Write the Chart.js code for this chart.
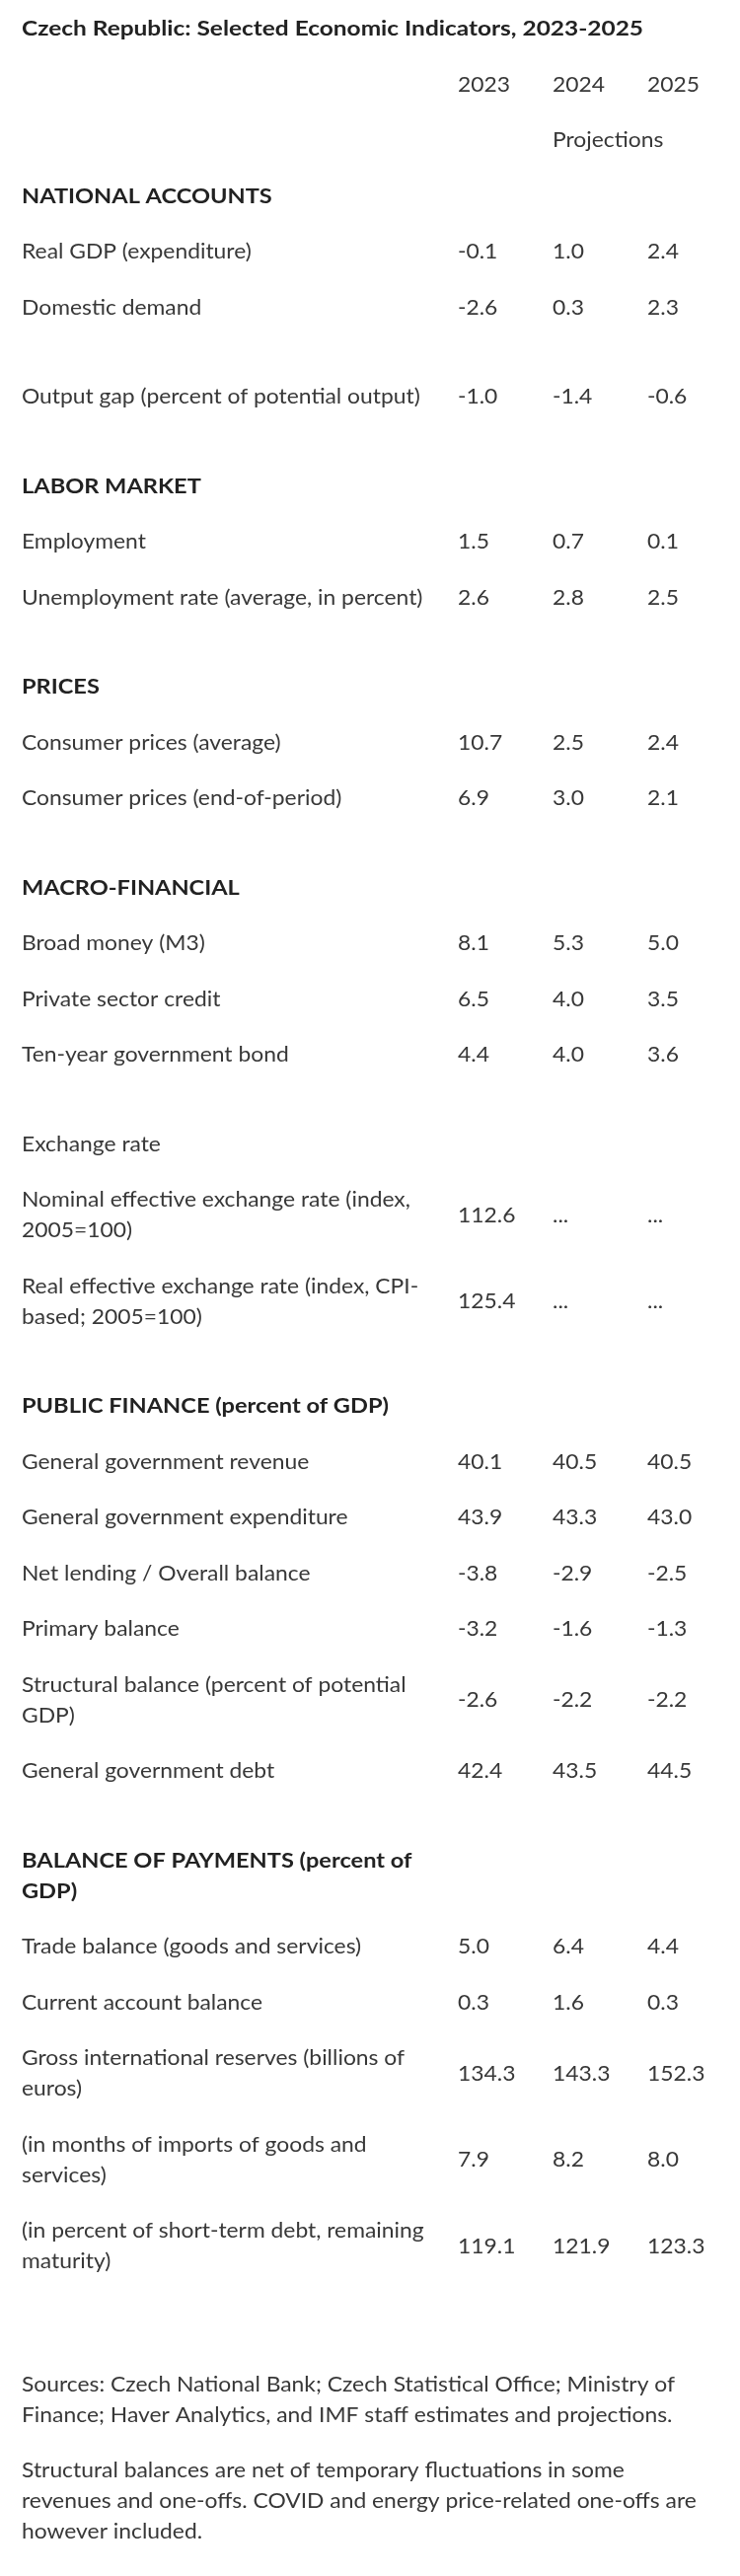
<!DOCTYPE html>
<html>
<head>
<meta charset="utf-8">
<script src="https://cdn.jsdelivr.net/npm/chart.js@4.4.1/dist/chart.umd.min.js"></script>
<style>
  html, body { margin: 0; padding: 0; background: #ffffff; }
  #wrap { width: 750px; height: 2611px; position: relative; }
</style>
</head>
<body>
<div id="wrap"><canvas id="c"></canvas></div>
<script>
// ---------------- DATA ----------------
const chartTitle = 'Czech Republic: Selected Economic Indicators, 2023-2025';
const years = ['2023', '2024', '2025'];
const projectionNote = 'Projections';

// row kinds: S = section header, I = item, G = blank gap
const rowKinds = [
  'S','I','I','G','I','G',
  'S','I','I','G',
  'S','I','I','G',
  'S','I','I','I','G','I','I','I','G',
  'S','I','I','I','I','I','I','G',
  'S','I','I','I','I','I'
];
const rowLabels = [
  'NATIONAL ACCOUNTS', 'Real GDP (expenditure)', 'Domestic demand', '', 'Output gap (percent of potential output)', '',
  'LABOR MARKET', 'Employment', 'Unemployment rate (average, in percent)', '',
  'PRICES', 'Consumer prices (average)', 'Consumer prices (end-of-period)', '',
  'MACRO-FINANCIAL', 'Broad money (M3)', 'Private sector credit', 'Ten-year government bond', '',
  'Exchange rate', 'Nominal effective exchange rate (index,\n2005=100)', 'Real effective exchange rate (index, CPI-\nbased; 2005=100)', '',
  'PUBLIC FINANCE (percent of GDP)', 'General government revenue', 'General government expenditure',
  'Net lending / Overall balance', 'Primary balance', 'Structural balance (percent of potential\nGDP)', 'General government debt', '',
  'BALANCE OF PAYMENTS (percent of\nGDP)', 'Trade balance (goods and services)', 'Current account balance',
  'Gross international reserves (billions of\neuros)', '(in months of imports of goods and\nservices)',
  '(in percent of short-term debt, remaining\nmaturity)'
];
const values2023 = [
  '', '-0.1', '-2.6', '', '-1.0', '',
  '', '1.5', '2.6', '',
  '', '10.7', '6.9', '',
  '', '8.1', '6.5', '4.4', '',
  '', '112.6', '125.4', '',
  '', '40.1', '43.9', '-3.8', '-3.2', '-2.6', '42.4', '',
  '', '5.0', '0.3', '134.3', '7.9', '119.1'
];
const values2024 = [
  '', '1.0', '0.3', '', '-1.4', '',
  '', '0.7', '2.8', '',
  '', '2.5', '3.0', '',
  '', '5.3', '4.0', '4.0', '',
  '', '...', '...', '',
  '', '40.5', '43.3', '-2.9', '-1.6', '-2.2', '43.5', '',
  '', '6.4', '1.6', '143.3', '8.2', '121.9'
];
const values2025 = [
  '', '2.4', '2.3', '', '-0.6', '',
  '', '0.1', '2.5', '',
  '', '2.4', '2.1', '',
  '', '5.0', '3.5', '3.6', '',
  '', '...', '...', '',
  '', '40.5', '43.0', '-2.5', '-1.3', '-2.2', '44.5', '',
  '', '4.4', '0.3', '152.3', '8.0', '123.3'
];
const footnotes = [
  ['Sources: Czech National Bank; Czech Statistical Office; Ministry of',
   'Finance; Haver Analytics, and IMF staff estimates and projections.'],
  ['Structural balances are net of temporary fluctuations in some',
   'revenues and one-offs. COVID and energy price-related one-offs are',
   'however included.']
];

// ---------------- LAYOUT (styles / geometry) ----------------
const PAGE_W = 750, PAGE_H = 2611;
const LAYOUT = {
  titleY: 29,
  tableTop: 57.75,
  rowH: 56.5,
  extraLineH: 31,
  gapH: 34,
  lineH: 31,
  footGap: 96,
  paraGap: 25,
  labelX: 22,
  colX: [464, 560, 656]
};
const FONT_FAMILY = 'Lato, "Open Sans", "Noto Sans", sans-serif';
const BODY_FONT = '400 21px ' + FONT_FAMILY;
const BOLD_FONT = '700 21px ' + FONT_FAMILY;
const BODY_COLOR = '#383838';
const BOLD_COLOR = '#222222';
const BODY_REF_WIDTH = 662;   // width of first footnote line in reference
const BOLD_REF_WIDTH = 630;   // width of title in reference
const SECTION_FACTOR = 0.965; // section headers slightly narrower than title

// compute row centres from row heights (header rows first)
function lineCount(s) { return s ? s.split('\n').length : 1; }
const headerCenters = [];
const rowCenters = [];
let cursor = LAYOUT.tableTop;
for (let k = 0; k < 2; k++) { headerCenters.push(cursor + LAYOUT.rowH / 2); cursor += LAYOUT.rowH; }
rowKinds.forEach((kind, i) => {
  const h = kind === 'G' ? LAYOUT.gapH : LAYOUT.rowH + (lineCount(rowLabels[i]) - 1) * LAYOUT.extraLineH;
  rowCenters.push(cursor + h / 2);
  cursor += h;
});
const tableBottom = cursor;

// datasets built from the arrays
const valueCols = [values2023, values2024, values2025];
const datasets = [];
datasets.push({
  label: 'labels',
  data: rowLabels.map((t, i) => ({ x: LAYOUT.labelX, y: rowCenters[i], text: t, kind: rowKinds[i] })).filter(d => d.text),
  pointRadius: 0, showLine: false
});
valueCols.forEach((col, j) => {
  datasets.push({
    label: years[j],
    data: col.map((v, i) => ({ x: LAYOUT.colX[j], y: rowCenters[i], text: v, kind: 'V' })).filter(d => d.text),
    pointRadius: 0, showLine: false
  });
});

let bodySX = 1, boldSX = 1;
function calibrate(ctx) {
  ctx.save();
  ctx.font = BODY_FONT;
  const w1 = ctx.measureText(footnotes[0][0]).width;
  ctx.font = BOLD_FONT;
  const w2 = ctx.measureText(chartTitle).width;
  ctx.restore();
  bodySX = Math.min(1.3, Math.max(0.75, BODY_REF_WIDTH / w1));
  boldSX = Math.min(1.3, Math.max(0.75, BOLD_REF_WIDTH / w2));
}
function drawText(ctx, str, x, y, bold, factor) {
  ctx.save();
  ctx.font = bold ? BOLD_FONT : BODY_FONT;
  ctx.fillStyle = bold ? BOLD_COLOR : BODY_COLOR;
  ctx.textAlign = 'left';
  ctx.textBaseline = 'middle';
  ctx.translate(x, y);
  ctx.scale((bold ? boldSX : bodySX) * (factor || 1), 1);
  ctx.fillText(str, 0, 0);
  ctx.restore();
}
function drawMulti(ctx, str, x, y, bold, factor) {
  const lines = str.split('\n');
  const off = (lines.length - 1) * LAYOUT.lineH / 2;
  lines.forEach((ln, k) => drawText(ctx, ln, x, y - off + k * LAYOUT.lineH, bold, factor));
}

const tablePlugin = {
  id: 'tablePlugin',
  beforeDraw(chart) {
    const ctx = chart.ctx;
    ctx.save();
    ctx.fillStyle = '#ffffff';
    ctx.fillRect(0, 0, chart.width, chart.height);
    ctx.restore();
  },
  afterDatasetsDraw(chart) {
    const ctx = chart.ctx;
    const xs = chart.scales.x, ys = chart.scales.y;
    calibrate(ctx);
    // title
    drawText(ctx, chartTitle, xs.getPixelForValue(LAYOUT.labelX), ys.getPixelForValue(LAYOUT.titleY), true);
    // column headers
    years.forEach((yr, j) => drawText(ctx, yr, xs.getPixelForValue(LAYOUT.colX[j]), ys.getPixelForValue(headerCenters[0]), false));
    drawText(ctx, projectionNote, xs.getPixelForValue(LAYOUT.colX[1]), ys.getPixelForValue(headerCenters[1]), false);
    // cells from dataset elements
    chart.data.datasets.forEach((ds, di) => {
      const meta = chart.getDatasetMeta(di);
      meta.data.forEach((el, k) => {
        const d = ds.data[k];
        const isSection = d.kind === 'S';
        drawMulti(ctx, d.text, el.x, el.y, isSection, isSection ? SECTION_FACTOR : 1);
      });
    });
    // footnotes
    let fy = tableBottom + LAYOUT.footGap;
    footnotes.forEach(par => {
      par.forEach(ln => {
        drawText(ctx, ln, xs.getPixelForValue(LAYOUT.labelX), ys.getPixelForValue(fy), false);
        fy += LAYOUT.lineH;
      });
      fy += LAYOUT.paraGap;
    });
  }
};

const canvas = document.getElementById('c');
new Chart(canvas, {
  type: 'scatter',
  data: { datasets },
  options: {
    responsive: true,
    maintainAspectRatio: false,
    devicePixelRatio: 1,
    animation: false,
    events: [],
    layout: { padding: 0 },
    plugins: { legend: { display: false }, tooltip: { enabled: false }, title: { display: false } },
    scales: {
      x: { type: 'linear', min: 0, max: PAGE_W, display: false },
      y: { type: 'linear', min: 0, max: PAGE_H, reverse: true, display: false }
    },
    elements: { point: { radius: 0, hoverRadius: 0 } }
  },
  plugins: [tablePlugin]
});
</script>
</body>
</html>
